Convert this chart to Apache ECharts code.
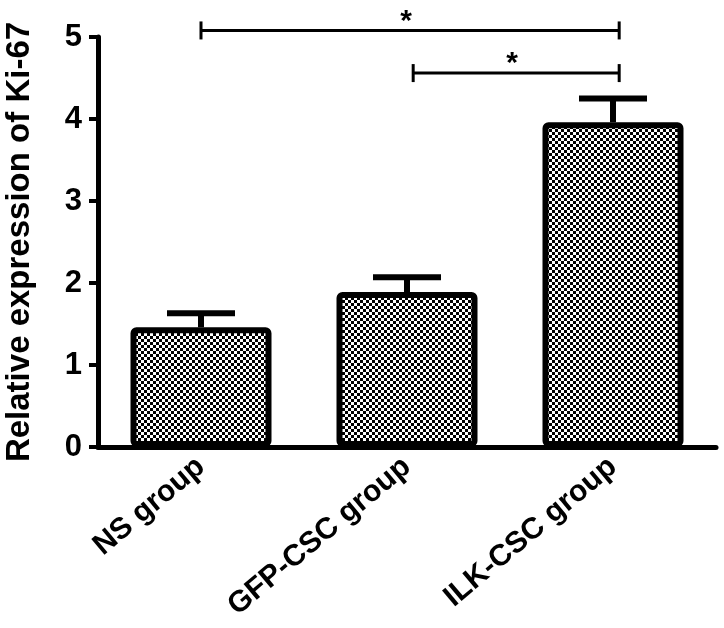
<!DOCTYPE html>
<html>
<head>
<meta charset="utf-8">
<script src="https://cdn.jsdelivr.net/npm/echarts@6/dist/echarts.min.js"></script>
<style>
  html, body { margin: 0; padding: 0; background: #fff; }
  #chart { width: 724px; height: 628px; }
</style>
</head>
<body>
<div id="chart"></div>
<script>
// data
var groups = ['NS group', 'GFP-CSC group', 'ILK-CSC group'];
var means = [1.46, 1.89, 3.96];
var upper = [1.63, 2.07, 4.25]; // mean + error
var yTicks = [0, 1, 2, 3, 4, 5];
// significance brackets: [from category, to category, y value, label]
var brackets = [
    [0, 2.03, 5.08, '*'],
    [1.03, 2.03, 4.56, '*']
];

var FONT = '"Liberation Sans", Arial, Helvetica, sans-serif';

// checker pattern for the bars
var pat = document.createElement('canvas');
pat.width = 6;
pat.height = 6;
var pctx = pat.getContext('2d');
pctx.fillStyle = '#fff';
pctx.fillRect(0, 0, 6, 6);
pctx.fillStyle = '#000';
pctx.fillRect(0, 0, 3, 3);
pctx.fillRect(3, 3, 3, 3);

var errData = groups.map(function (g, i) {
    return [i, means[i], upper[i]];
});

var myChart = echarts.init(document.getElementById('chart'));

var option = {
    backgroundColor: '#fff',
    animation: false,
    grid: {
        left: 98,
        right: 8,
        top: 37,
        bottom: 181,
        containLabel: false,
        outerBoundsMode: 'none'
    },
    xAxis: {
        type: 'category',
        data: groups,
        axisLine: { lineStyle: { color: '#000', width: 5 } },
        axisTick: { alignWithLabel: true, length: 10, lineStyle: { color: '#000', width: 4 } },
        axisLabel: {
            rotate: 40,
            margin: 16,
            color: '#000',
            fontSize: 30,
            fontWeight: 'bold',
            fontFamily: FONT
        }
    },
    yAxis: {
        type: 'value',
        min: yTicks[0],
        max: yTicks[yTicks.length - 1],
        interval: 1,
        name: 'Relative expression of Ki-67',
        nameLocation: 'middle',
        nameGap: 62,
        nameTextStyle: {
            color: '#000',
            fontSize: 33,
            fontWeight: 'bold',
            fontFamily: FONT
        },
        splitLine: { show: false },
        axisLine: { show: true, lineStyle: { color: '#000', width: 5 } },
        axisTick: { show: true, length: 9, lineStyle: { color: '#000', width: 4 } },
        axisLabel: {
            margin: 16,
            color: '#000',
            fontSize: 31,
            fontWeight: 'bold',
            fontFamily: FONT
        }
    },
    series: [{
        type: 'bar',
        data: means,
        barWidth: 141,
        itemStyle: {
            color: { image: pat, repeat: 'repeat' },
            borderColor: '#000',
            borderWidth: 6,
            borderRadius: 3
        },
        z: 2
    }, {
        // error bars (upper only)
        type: 'custom',
        data: errData,
        z: 3,
        renderItem: function (params, api) {
            var x = api.value(0);
            var top = api.coord([x, api.value(1)]);
            var up = api.coord([x, api.value(2)]);
            var half = 34;
            return {
                type: 'group',
                children: [{
                    type: 'line',
                    shape: { x1: top[0], y1: top[1], x2: up[0], y2: up[1] },
                    style: { stroke: '#000', lineWidth: 6 }
                }, {
                    type: 'line',
                    shape: { x1: up[0] - half, y1: up[1], x2: up[0] + half, y2: up[1] },
                    style: { stroke: '#000', lineWidth: 6 }
                }]
            };
        }
    }, {
        // significance brackets
        type: 'custom',
        data: brackets,
        clip: false,
        z: 3,
        renderItem: function (params, api) {
            var b = brackets[params.dataIndex];
            var band = api.size([1, 0])[0];
            var i0 = Math.floor(b[0]), i1 = Math.floor(b[1]);
            var p0 = api.coord([i0, b[2]]);
            var p1 = api.coord([i1, b[2]]);
            var x0 = p0[0] + (b[0] - i0) * band;
            var x1 = p1[0] + (b[1] - i1) * band;
            var y = p0[1];
            var st = { stroke: '#000', lineWidth: 3 };
            return {
                type: 'group',
                children: [{
                    type: 'line',
                    shape: { x1: x0, y1: y, x2: x1, y2: y },
                    style: st
                }, {
                    type: 'line',
                    shape: { x1: x0, y1: y - 9, x2: x0, y2: y + 9 },
                    style: st
                }, {
                    type: 'line',
                    shape: { x1: x1, y1: y - 9, x2: x1, y2: y + 9 },
                    style: st
                }, {
                    type: 'text',
                    style: {
                        x: (x0 + x1) / 2 - 4,
                        y: y - 9,
                        text: b[3],
                        fill: '#000',
                        font: 'bold 30px ' + FONT,
                        textAlign: 'center',
                        textVerticalAlign: 'middle'
                    }
                }]
            };
        }
    }]
};

myChart.setOption(option);
window.addEventListener('resize', function () {
    myChart.resize();
});
</script>
</body>
</html>
